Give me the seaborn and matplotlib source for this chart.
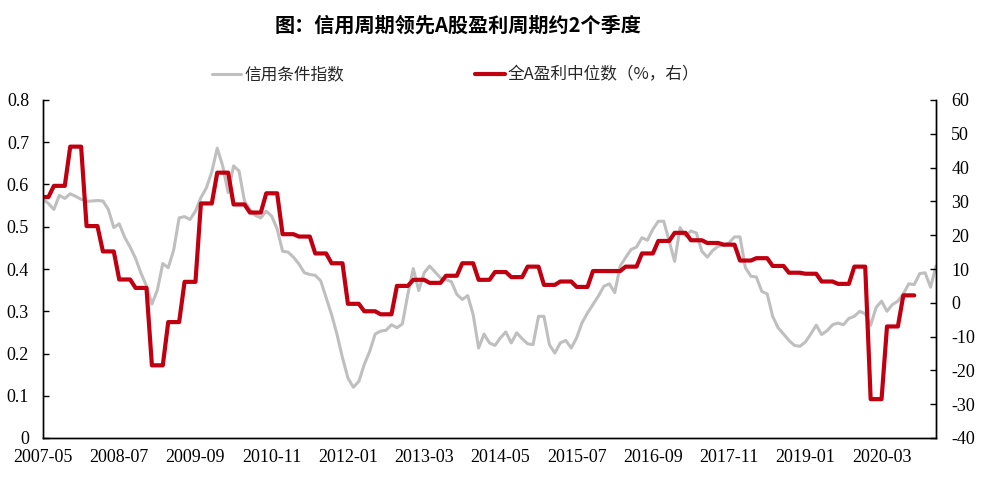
import numpy as np
import pandas as pd
import matplotlib
matplotlib.use("Agg")
import matplotlib.pyplot as plt
import seaborn as sns
from matplotlib.lines import Line2D

# ---------------- data ----------------
start_month = "2007-05"
tick_labels = ["2007-05", "2008-07", "2009-09", "2010-11", "2012-01", "2013-03",
               "2014-05", "2015-07", "2016-09", "2017-11", "2019-01", "2020-03"]

# 信用条件指数 (left axis), monthly 2007-05 .. 2021-01
credit_index = [
    0.565, 0.555, 0.541, 0.574, 0.567, 0.578, 0.572, 0.565, 0.560, 0.561,
    0.562, 0.561, 0.541, 0.498, 0.507, 0.475, 0.452, 0.425, 0.390, 0.360,
    0.317, 0.350, 0.413, 0.403, 0.445, 0.521, 0.524, 0.517, 0.537, 0.569,
    0.592, 0.630, 0.686, 0.644, 0.581, 0.644, 0.632, 0.561, 0.541, 0.527,
    0.521, 0.537, 0.525, 0.495, 0.442, 0.440, 0.428, 0.412, 0.391, 0.387,
    0.385, 0.372, 0.332, 0.292, 0.245, 0.190, 0.142, 0.120, 0.134, 0.174,
    0.205, 0.246, 0.253, 0.255, 0.268, 0.261, 0.270, 0.340, 0.401, 0.349,
    0.391, 0.407, 0.393, 0.379, 0.375, 0.370, 0.340, 0.328, 0.337, 0.292,
    0.213, 0.246, 0.225, 0.219, 0.237, 0.251, 0.225, 0.249, 0.235, 0.223,
    0.221, 0.288, 0.288, 0.221, 0.201, 0.225, 0.231, 0.213, 0.237, 0.273,
    0.296, 0.316, 0.336, 0.359, 0.365, 0.344, 0.407, 0.427, 0.446, 0.452,
    0.474, 0.468, 0.494, 0.513, 0.513, 0.466, 0.418, 0.498, 0.478, 0.490,
    0.485, 0.442, 0.428, 0.444, 0.454, 0.456, 0.462, 0.476, 0.476, 0.403,
    0.383, 0.381, 0.347, 0.341, 0.288, 0.261, 0.246, 0.231, 0.219, 0.217,
    0.227, 0.246, 0.267, 0.245, 0.254, 0.268, 0.272, 0.268, 0.283, 0.288,
    0.300, 0.294, 0.267, 0.309, 0.324, 0.300, 0.316, 0.324, 0.341, 0.365,
    0.363, 0.389, 0.391, 0.357, 0.407,
]

# 全A盈利中位数 (%, right axis), monthly 2007-05 .. 2020-09
profit_median = [
    31.3, 31.3, 34.6, 34.6, 34.6, 46.2, 46.2, 46.2,                        # 2007
    22.7, 22.7, 22.7, 15.2, 15.2, 15.2, 6.9, 6.9, 6.9, 4.4, 4.4, 4.4,      # 2008
    -18.5, -18.5, -18.5, -5.7, -5.7, -5.7, 6.2, 6.2, 6.2, 29.4, 29.4, 29.4,  # 2009
    38.5, 38.5, 38.5, 29.1, 29.1, 29.1, 26.7, 26.7, 26.7, 32.4, 32.4, 32.4,  # 2010
    20.3, 20.3, 20.3, 19.6, 19.6, 19.6, 14.6, 14.6, 14.6, 11.7, 11.7, 11.7,  # 2011
    -0.3, -0.3, -0.3, -2.5, -2.5, -2.5, -3.4, -3.4, -3.4, 5.0, 5.0, 5.0,     # 2012
    6.8, 6.8, 6.8, 5.9, 5.9, 5.9, 8.0, 8.0, 8.0, 11.7, 11.7, 11.7,           # 2013
    6.8, 6.8, 6.8, 9.1, 9.1, 9.1, 7.6, 7.6, 7.6, 10.7, 10.7, 10.7,           # 2014
    5.3, 5.3, 5.3, 6.3, 6.3, 6.3, 4.7, 4.7, 4.7, 9.4, 9.4, 9.4,              # 2015
    9.4, 9.4, 9.4, 10.7, 10.7, 10.7, 14.6, 14.6, 14.6, 18.3, 18.3, 18.3,     # 2016
    20.7, 20.7, 20.7, 18.5, 18.5, 18.5, 17.7, 17.7, 17.7, 17.2, 17.2, 17.2,  # 2017
    12.5, 12.5, 12.5, 13.2, 13.2, 13.2, 10.9, 10.9, 10.9, 8.9, 8.9, 8.9,     # 2018
    8.6, 8.6, 8.6, 6.3, 6.3, 6.3, 5.6, 5.6, 5.6, 10.7, 10.7, 10.7,           # 2019
    -28.5, -28.5, -28.5, -7.0, -7.0, -7.0, 2.2, 2.2, 2.2,                    # 2020
]

title = "图：信用周期领先A股盈利周期约2个季度"
label_credit = "信用条件指数"
label_profit = "全A盈利中位数（%，右）"

# ---------------- frames ----------------
months = pd.period_range(start_month, periods=len(credit_index), freq="M").strftime("%Y-%m")
month_pos = {m: i for i, m in enumerate(months)}
df_credit = pd.DataFrame({"pos": np.arange(len(credit_index)), "value": credit_index})
df_profit = pd.DataFrame({"pos": np.arange(len(profit_median)), "value": profit_median})

# ---------------- style ----------------
sns.set_style("white")
plt.rcParams["font.family"] = ["Noto Sans CJK SC", "DejaVu Sans"]

GRAY = "#BFBFBF"
RED = "#C00010"

fig = plt.figure(figsize=(9.86, 4.82), dpi=100)
ax = fig.add_axes([43 / 986, 1 - 438 / 482, (936 - 43) / 986, (438 - 100) / 482])
ax2 = ax.twinx()

sns.lineplot(data=df_credit, x="pos", y="value", ax=ax, color=GRAY, linewidth=2.2)
sns.lineplot(data=df_profit, x="pos", y="value", ax=ax2, color=RED, linewidth=3.0)

ax.set_xlim(0, len(credit_index) - 1)
ax.set_ylim(0, 0.8)
ax2.set_ylim(-40, 60)
ax.set_yticks(np.arange(0, 0.81, 0.1))
ax.set_yticklabels(["0"] + [f"{v:.1f}" for v in np.arange(0.1, 0.81, 0.1)])
ax2.set_yticks(np.arange(-40, 61, 10))
ax2.set_yticklabels([str(v) for v in range(-40, 61, 10)])
ax.set_xticks([month_pos[m] for m in tick_labels])
ax.set_xticklabels(tick_labels)

for a in (ax, ax2):
    a.set_xlabel("")
    a.set_ylabel("")
    a.spines["top"].set_visible(False)
    for s in ("left", "right", "bottom"):
        a.spines[s].set_color("black")
        a.spines[s].set_linewidth(1.0)

serif = "Liberation Serif"
ax.tick_params(axis="y", direction="in", length=4.5, width=1, pad=10, labelsize=13, colors="black")
ax.tick_params(axis="x", direction="in", length=4.5, width=1, pad=8, labelsize=13, colors="black")
ax2.tick_params(axis="y", direction="in", length=4.5, width=1, pad=11, labelsize=13, colors="black")
for lab in ax.get_xticklabels() + ax.get_yticklabels() + ax2.get_yticklabels():
    lab.set_fontfamily(serif)

fig.text(0.465, 0.948, title, ha="center", va="center", fontsize=14.5,
         fontweight="bold", color="black", family=["Noto Sans CJK SC", "DejaVu Sans"])

handles = [Line2D([0], [0], color=GRAY, lw=2.2), Line2D([0], [0], color=RED, lw=3.0)]
fig.legend(handles, [label_credit, label_profit], loc="center", bbox_to_anchor=(0.462, 0.844),
           ncol=2, frameon=False, handlelength=1.75, handletextpad=0.2,
           columnspacing=7.9, prop={"family": ["Noto Sans CJK SC", "DejaVu Sans"], "size": 12})

fig.savefig("out.png", dpi=100)
